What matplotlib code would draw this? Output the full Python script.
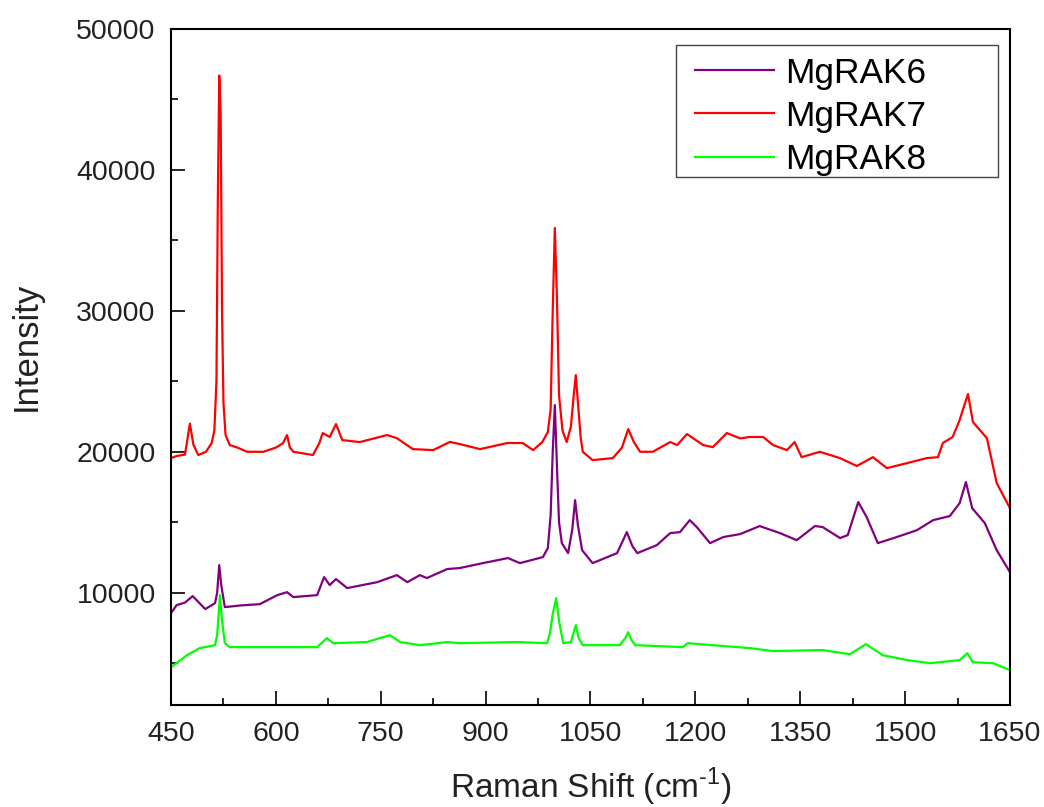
import matplotlib
matplotlib.use("Agg")
import matplotlib.pyplot as plt
from matplotlib.ticker import MultipleLocator
from matplotlib.patches import Rectangle

plt.rcParams['font.family'] = ['Liberation Sans', 'DejaVu Sans']

# ---- data ----
x_rak7 = [450, 458, 470, 477, 482, 489, 500, 508, 512, 515, 517, 519, 521, 523, 525, 528,
          534, 545, 559, 582, 600, 610, 616, 620, 625, 653, 662, 667, 677, 686, 695, 720,
          759, 773, 796, 825, 849, 863, 892, 931, 953, 968, 981, 989, 993, 996, 999, 1002,
          1005, 1010, 1016, 1022, 1026, 1029, 1032, 1036, 1039, 1053, 1082, 1095, 1104, 1112,
          1121, 1139, 1164, 1174, 1188, 1211, 1225, 1245, 1264, 1278, 1297, 1311, 1331, 1342,
          1352, 1378, 1407, 1431, 1454, 1474, 1503, 1531, 1547, 1554, 1568, 1578, 1586, 1590,
          1597, 1617, 1631, 1650]
y_rak7 = [19550, 19700, 19800, 22000, 20500, 19770, 20000, 20600, 21500, 25000, 38000, 46700,
          44000, 30000, 23500, 21200, 20476, 20300, 20000, 20000, 20300, 20600, 21186, 20300,
          20000, 19770, 20600, 21330, 21050, 21966, 20830, 20690, 21186, 20970, 20190, 20120,
          20700, 20550, 20190, 20620, 20620, 20120, 20690, 21400, 23000, 30000, 35880, 31000,
          24000, 21500, 20690, 21800, 24000, 25440, 23500, 21000, 20000, 19410, 19550, 20300,
          21610, 20700, 20000, 20000, 20690, 20480, 21260, 20480, 20330, 21330, 20950, 21050,
          21050, 20480, 20120, 20690, 19620, 20000, 19550, 18990, 19620, 18840, 19200, 19550,
          19620, 20620, 21050, 22250, 23500, 24100, 22110, 20970, 17780, 16000]

x_rak6 = [450, 458, 470, 481, 490, 499, 513, 516, 519, 522, 527, 550, 577, 602, 616, 625,
          659, 669, 677, 686, 702, 745, 773, 788, 806, 816, 845, 863, 896, 932, 949, 982,
          989, 993, 996, 999, 1002, 1005, 1009, 1018, 1024, 1028, 1032, 1038, 1053, 1088,
          1102, 1110, 1117, 1145, 1164, 1178, 1192, 1202, 1221, 1240, 1264, 1292, 1321, 1345,
          1371, 1382, 1407, 1418, 1433, 1445, 1461, 1488, 1517, 1540, 1564, 1578, 1587, 1596,
          1614, 1631, 1650]
y_rak6 = [8550, 9120, 9300, 9760, 9300, 8840, 9260, 10000, 11960, 10500, 8980, 9100, 9190,
          9830, 10040, 9690, 9830, 11110, 10540, 10970, 10330, 10750, 11250, 10750, 11250,
          11040, 11680, 11750, 12100, 12460, 12100, 12530, 13170, 15500, 20000, 23310, 19000,
          15000, 13520, 12810, 14500, 16570, 14800, 13020, 12100, 12810, 14300, 13300, 12810,
          13380, 14230, 14300, 15150, 14660, 13520, 13950, 14160, 14730, 14230, 13730, 14730,
          14660, 13880, 14090, 16430, 15370, 13520, 13950, 14440, 15150, 15440, 16360, 17850,
          16000, 14940, 13020, 11460]

x_rak8 = [450, 473, 491, 513, 516, 520, 523, 527, 534, 659, 673, 682, 730, 763, 778, 806,
          845, 863, 945, 988, 992, 996, 1001, 1005, 1011, 1022, 1026, 1029, 1033, 1039, 1092,
          1100, 1104, 1108, 1114, 1182, 1189, 1278, 1311, 1382, 1421, 1444, 1468, 1503, 1536,
          1578, 1589, 1597, 1626, 1650]
y_rak8 = [4720, 5570, 6070, 6280, 7000, 9830, 8000, 6420, 6140, 6140, 6780, 6420, 6500,
          6990, 6500, 6280, 6500, 6420, 6500, 6420, 7130, 8500, 9620, 8000, 6420, 6500, 7200,
          7700, 6800, 6280, 6280, 6800, 7200, 6700, 6280, 6140, 6420, 6070, 5860, 5930, 5640,
          6350, 5570, 5220, 5000, 5220, 5710, 5070, 5000, 4510]

labels = ['MgRAK6', 'MgRAK7', 'MgRAK8']
colors = ['#800080', '#FF0000', '#00FF00']

fig = plt.figure(figsize=(10.44, 8.07), dpi=100)
ax = fig.add_axes([0.1638, 0.1258, 0.8036, 0.8383])

for xs, ys, lab, c in zip([x_rak6, x_rak7, x_rak8], [y_rak6, y_rak7, y_rak8], labels, colors):
    ax.plot(xs, ys, color=c, lw=1.6, label=lab)

ax.set_xlim(450, 1650)
ax.set_ylim(2000, 50000)
ax.xaxis.set_major_locator(MultipleLocator(150))
ax.xaxis.set_minor_locator(MultipleLocator(75))
ax.yaxis.set_major_locator(MultipleLocator(10000))
ax.yaxis.set_minor_locator(MultipleLocator(5000))
ax.tick_params(which='both', direction='in', top=False, right=False, width=1.2,
               labelsize=20.5, pad=11, colors='black')
ax.tick_params(which='major', length=10)
ax.tick_params(which='minor', length=5)
for lbl in ax.get_xticklabels() + ax.get_yticklabels():
    lbl.set_color('#222222')
for s in ax.spines.values():
    s.set_linewidth(1.5)

ax.set_xlabel('Raman Shift (cm$^{\\mathregular{\u2010}\\mathregular{1}}$)', fontsize=24,
              labelpad=14, color='#222222')
ax.set_ylabel('Intensity', fontsize=25, color='#222222')
ax.yaxis.set_label_coords(-0.1526, 0.531)

# legend frame (box drawn to the reference size) and entries
frame = Rectangle((0.602, 0.781), 0.3837, 0.1952, transform=ax.transAxes,
                  facecolor='white', edgecolor='#444444', lw=1.0, zorder=4)
ax.add_patch(frame)
leg = ax.legend(loc='upper left', bbox_to_anchor=(0.6246, 0.9593),
                borderaxespad=0, fontsize=25.4, frameon=False,
                handlelength=2.25, labelspacing=0.29,
                borderpad=0, handletextpad=0.31)
leg.set_zorder(5)

fig.savefig('out.png', dpi=100)
